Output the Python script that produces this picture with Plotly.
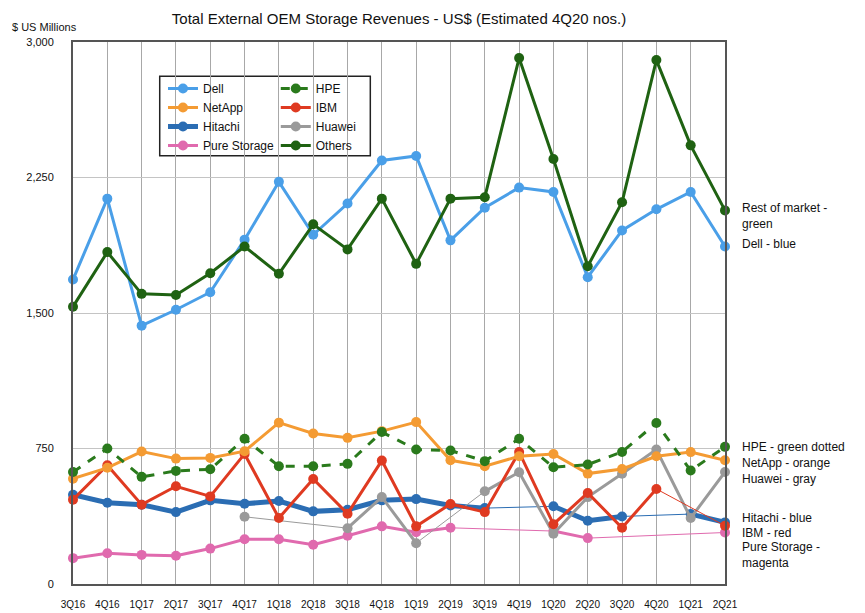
import plotly.graph_objects as go

quarters = ["3Q16", "4Q16", "1Q17", "2Q17", "3Q17", "4Q17", "1Q18", "2Q18", "3Q18", "4Q18",
            "1Q19", "2Q19", "3Q19", "4Q19", "1Q20", "2Q20", "3Q20", "4Q20", "1Q21", "2Q21"]

# $ US millions; None = no figure for that quarter
dell = [1685, 2133, 1430, 1518, 1615, 1906, 2226, 1933, 2106, 2344,
        2369, 1902, 2083, 2194, 2170, 1698, 1957, 2074, 2170, 1868]
others = [1535, 1837, 1606, 1600, 1720, 1868, 1717, 1991, 1852, 2133,
          1772, 2133, 2141, 2911, 2352, 1759, 2113, 2900, 2428, 2068]
netapp = [583, 643, 733, 694, 698, 735, 893, 833, 809, 846,
          896, 685, 652, 707, 720, 611, 637, 707, 730, 685]
hpe = [620, 750, 593, 626, 635, 804, 652, 652, 665, 841,
       744, 739, 680, 804, 646, 661, 731, 891, 628, 759]
ibm = [467, 657, 439, 541, 485, 720, 365, 581, 389, 683,
       319, 443, 398, 730, 331, 504, 311, 526, None, 322]
hitachi = [494, 450, 439, 398, 463, 444, 459, 402, 411, 463,
           470, 435, 420, None, 430, 350, 374, None, 387, 341]
pure = [143, 170, 161, 156, 196, 248, 248, 217, 267, 319,
        287, 311, None, None, 293, 254, None, None, None, 285]
huawei = [None, None, None, None, None, 372, None, None, 309, 481,
          226, None, 513, 619, 278, 481, 610, 744, 365, 620]

series = [
    ("Dell", dell, "#4a9fe8", 3, "solid", "legend", 1),
    ("Others", others, "#1f6212", 3, "solid", "legend2", 8),
    ("Pure Storage", pure, "#e06aae", 3, "solid", "legend", 4),
    ("Hitachi", hitachi, "#2b6db3", 5, "solid", "legend", 3),
    ("Huawei", huawei, "#9a9a9a", 3, "solid", "legend2", 7),
    ("IBM", ibm, "#df3a21", 3, "solid", "legend2", 6),
    ("NetApp", netapp, "#f49b33", 3, "solid", "legend", 2),
    ("HPE", hpe, "#2a7a1c", 3, "dash", "legend2", 5),
]

fig = go.Figure()
for name, vals, color, w, dash, leg, rank in series:
    # thin line bridging the missing quarters
    if None in vals:
        fig.add_trace(go.Scatter(x=quarters, y=vals, mode="lines", connectgaps=True,
                                 line=dict(color=color, width=1), showlegend=False,
                                 hoverinfo="skip", cliponaxis=False))
    fig.add_trace(go.Scatter(x=quarters, y=vals, mode="lines+markers", name=name,
                             line=dict(color=color, width=w, dash=dash),
                             marker=dict(color=color, size=10),
                             legend=leg, legendrank=rank, cliponaxis=False))

notes = [
    ("Rest of market -<br>green", 2039),
    ("Dell - blue", 1883),
    ("HPE - green dotted", 761),
    ("NetApp - orange", 672),
    ("Huawei - gray", 583),
    ("Hitachi - blue", 367),
    ("IBM - red", 283),
    ("Pure Storage -<br>magenta", 161),
]
for txt, yv in notes:
    fig.add_annotation(text=txt, x=1.023, xref="paper", y=yv, yref="y", xanchor="left",
                       yanchor="middle", align="left", showarrow=False,
                       font=dict(size=12, color="#111"))

fig.add_annotation(text="$ US Millions", x=-0.097, xref="paper", y=1.028, yref="paper",
                   showarrow=False, xanchor="left", yanchor="middle",
                   font=dict(size=11, color="#111"))

fig.add_shape(type="rect", xref="paper", yref="paper", x0=0.133, x1=0.456, y0=0.79, y1=0.937,
              line=dict(color="#222", width=1.5), fillcolor="white", layer="below")

# the page body adds an 8px margin, so the figure is drawn 8px smaller
fig.update_layout(
    width=857, height=605,
    margin=dict(l=65, r=140, t=34, b=29),
    paper_bgcolor="white", plot_bgcolor="white",
    font=dict(family="Liberation Sans, Arial, sans-serif", color="#111"),
    title=dict(text="Total External OEM Storage Revenues - US$ (Estimated 4Q20 nos.)",
               x=0.5, xref="paper", xanchor="center", y=0.982, yanchor="middle",
               font=dict(size=15, color="#111")),
    legend=dict(x=0.138, y=0.941, xanchor="left", yanchor="top", bgcolor="rgba(0,0,0,0)",
                font=dict(size=12), itemwidth=30),
    legend2=dict(x=0.311, y=0.941, xanchor="left", yanchor="top", bgcolor="rgba(0,0,0,0)",
                 font=dict(size=12), itemwidth=30),
    xaxis=dict(type="category", range=[0, 19], showgrid=True, gridcolor="#a8a8a8",
               gridwidth=1, showline=True, linecolor="#555", linewidth=2, mirror=True,
               ticks="", tickfont=dict(size=10, color="#111"), ticklabelstandoff=10,
               automargin=False),
    yaxis=dict(range=[0, 3000], tickvals=[0, 750, 1500, 2250, 3000], tickformat=",d",
               showgrid=True, gridcolor="#c4c4c4", showline=True, linecolor="#555",
               linewidth=2, mirror=True, ticks="", zeroline=False,
               tickfont=dict(size=11, color="#111"), ticklabelstandoff=15,
               automargin=False),
)

fig.write_html("out.html")
